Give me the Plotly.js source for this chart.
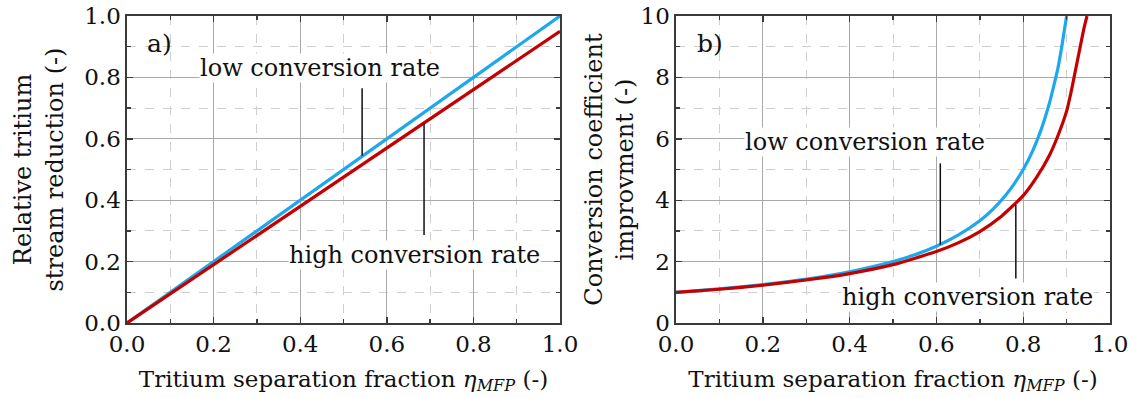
<!DOCTYPE html>
<html>
<head>
<meta charset="utf-8">
<script src="https://cdn.plot.ly/plotly-3.0.1.min.js"></script>
<style>html,body{margin:0;padding:0;background:#fff;}#chart{width:1136px;height:398px;}</style>
</head>
<body>
<div id="chart"></div>
<script>
// ---- Panel a) values ----
const etaA = [0.0, 0.1, 0.2, 0.3, 0.4, 0.5, 0.6, 0.7, 0.8, 0.9, 1.0];
const lowA = [0.0, 0.10, 0.20, 0.30, 0.40, 0.50, 0.60, 0.70, 0.80, 0.90, 1.00];
const highA = [0.0, 0.095, 0.19, 0.285, 0.38, 0.475, 0.57, 0.665, 0.76, 0.855, 0.95];

// ---- Panel b) values ----
const etaLowB = [0.0, 0.1, 0.2, 0.3, 0.4, 0.5, 0.55, 0.6, 0.65, 0.7, 0.73, 0.76, 0.78, 0.8, 0.82, 0.84, 0.85, 0.86, 0.87, 0.88, 0.89, 0.9];
const lowB = [1.0, 1.11, 1.25, 1.43, 1.67, 2.0, 2.22, 2.5, 2.86, 3.33, 3.7, 4.17, 4.55, 5.0, 5.55, 6.25, 6.67, 7.14, 7.7, 8.3, 9.1, 10.0];
const etaHighB = [0.0, 0.1, 0.2, 0.3, 0.4, 0.5, 0.6, 0.65, 0.7, 0.75, 0.8, 0.83, 0.86, 0.88, 0.9, 0.91, 0.92, 0.93, 0.94, 0.947];
const highB = [1.0, 1.10, 1.23, 1.40, 1.61, 1.90, 2.33, 2.61, 2.98, 3.48, 4.15, 4.73, 5.45, 6.1, 6.9, 7.5, 8.2, 8.9, 9.6, 10.0];

// ---- Labels ----
const xTitle = 'Tritium separation fraction <i>η</i><sub><i>MFP</i></sub> (-)';
const yTitleA = 'Relative tritium<br>stream reduction (-)';
const yTitleB = 'Conversion coefficient<br>improvment (-)';
const lowLabel = 'low conversion rate';
const highLabel = 'high conversion rate';

// ---- Annotation pointer positions (data units) ----
const ptrLowA = {x: 0.543, y0: 0.765, y1: 0.545};
const ptrHighA = {x: 0.686, y0: 0.65, y1: 0.287};
const ptrLowB = {x: 0.609, y0: 5.2, y1: 2.55};
const ptrHighB = {x: 0.783, y0: 3.85, y1: 1.45};

const BLUE = '#1ea8ec';
const RED = '#c40000';
const FONT = 'DejaVu Serif, Liberation Serif, serif';

const traces = [
  {x: etaA, y: lowA, type: 'scatter', mode: 'lines', line: {color: BLUE, width: 3.2}, xaxis: 'x', yaxis: 'y', hoverinfo: 'skip'},
  {x: etaA, y: highA, type: 'scatter', mode: 'lines', line: {color: RED, width: 3.2}, xaxis: 'x', yaxis: 'y', hoverinfo: 'skip'},
  {x: etaLowB, y: lowB, type: 'scatter', mode: 'lines', line: {color: BLUE, width: 3.2, shape: 'spline', smoothing: 0.5}, xaxis: 'x2', yaxis: 'y2', hoverinfo: 'skip'},
  {x: etaHighB, y: highB, type: 'scatter', mode: 'lines', line: {color: RED, width: 3.2, shape: 'spline', smoothing: 0.5}, xaxis: 'x2', yaxis: 'y2', hoverinfo: 'skip'}
];

function axisBase(extra) {
  return Object.assign({
    showline: true, mirror: 'ticks', linecolor: '#3a3a3a', linewidth: 1.6,
    ticks: 'inside', ticklen: 6, tickwidth: 1.4, tickcolor: '#3a3a3a',
    showgrid: true, gridcolor: '#a8a8a8', gridwidth: 1,
    zeroline: false, fixedrange: true,
    tickfont: {family: FONT, size: 23, color: '#111'}
  }, extra);
}

const minorX = {dtick: 0.1, ticks: 'inside', ticklen: 4, tickcolor: '#3a3a3a', showgrid: true, gridcolor: '#cfcfcf', griddash: 'dash', gridwidth: 1};

const layout = {
  width: 1136, height: 398,
  margin: {l: 127, r: 26, t: 16, b: 75},
  paper_bgcolor: '#fff', plot_bgcolor: '#fff',
  showlegend: false,
  font: {family: FONT, color: '#111'},
  xaxis: axisBase({domain: [0, 0.4405], range: [0, 1], dtick: 0.2, tickformat: '.1f', anchor: 'y',
    minor: minorX,
    title: {text: xTitle, font: {family: FONT, size: 23, color: '#111'}, standoff: 14}}),
  yaxis: axisBase({range: [0, 1], dtick: 0.2, tickformat: '.1f', anchor: 'x',
    minor: {dtick: 0.1, ticks: 'inside', ticklen: 4, tickcolor: '#3a3a3a', showgrid: true, gridcolor: '#cfcfcf', griddash: 'dash', gridwidth: 1},
    title: {text: yTitleA, font: {family: FONT, size: 24, color: '#111'}, standoff: 14}}),
  xaxis2: axisBase({domain: [0.5585, 1], range: [0, 1], dtick: 0.2, tickformat: '.1f', anchor: 'y2',
    minor: minorX,
    title: {text: xTitle, font: {family: FONT, size: 23, color: '#111'}, standoff: 14}}),
  yaxis2: axisBase({range: [0, 10], dtick: 2, anchor: 'x2',
    minor: {dtick: 1, ticks: 'inside', ticklen: 4, tickcolor: '#3a3a3a', showgrid: true, gridcolor: '#cfcfcf', griddash: 'dash', gridwidth: 1},
    title: {text: yTitleB, font: {family: FONT, size: 24, color: '#111'}, standoff: 0}}),
  shapes: [
    {type: 'line', xref: 'x', yref: 'y', x0: ptrLowA.x, x1: ptrLowA.x, y0: ptrLowA.y0, y1: ptrLowA.y1, line: {color: '#111', width: 1.5}},
    {type: 'line', xref: 'x', yref: 'y', x0: ptrHighA.x, x1: ptrHighA.x, y0: ptrHighA.y0, y1: ptrHighA.y1, line: {color: '#111', width: 1.5}},
    {type: 'line', xref: 'x2', yref: 'y2', x0: ptrLowB.x, x1: ptrLowB.x, y0: ptrLowB.y0, y1: ptrLowB.y1, line: {color: '#111', width: 1.5}},
    {type: 'line', xref: 'x2', yref: 'y2', x0: ptrHighB.x, x1: ptrHighB.x, y0: ptrHighB.y0, y1: ptrHighB.y1, line: {color: '#111', width: 1.5}}
  ],
  annotations: [
    {xref: 'x', yref: 'y', x: 0.076, y: 0.91, text: 'a)', showarrow: false, font: {family: FONT, size: 25, color: '#111'}},
    {xref: 'x', yref: 'y', x: 0.446, y: 0.83, text: lowLabel, showarrow: false, bgcolor: '#fff', borderpad: 0, font: {family: FONT, size: 24, color: '#111'}},
    {xref: 'x', yref: 'y', x: 0.663, y: 0.22, text: highLabel, showarrow: false, bgcolor: '#fff', borderpad: 0, font: {family: FONT, size: 24, color: '#111'}},
    {xref: 'x2', yref: 'y2', x: 0.078, y: 9.1, text: 'b)', showarrow: false, font: {family: FONT, size: 25, color: '#111'}},
    {xref: 'x2', yref: 'y2', x: 0.436, y: 5.9, text: lowLabel, showarrow: false, bgcolor: '#fff', borderpad: 0, font: {family: FONT, size: 24, color: '#111'}},
    {xref: 'x2', yref: 'y2', x: 0.671, y: 0.85, text: highLabel, showarrow: false, bgcolor: '#fff', borderpad: 0, font: {family: FONT, size: 24, color: '#111'}}
  ]
};

Plotly.newPlot('chart', traces, layout, {staticPlot: true, displayModeBar: false});
</script>
</body>
</html>
